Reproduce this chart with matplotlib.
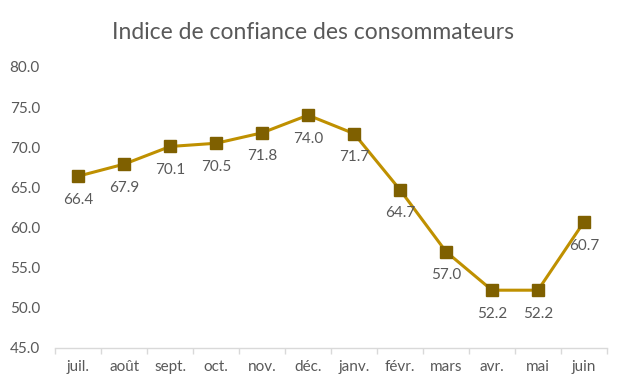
import numpy as np
import matplotlib
matplotlib.use("Agg")
import matplotlib.pyplot as plt

# Consumer confidence index, monthly
months = ["juil.", "août", "sept.", "oct.", "nov.", "déc.",
          "janv.", "févr.", "mars", "avr.", "mai", "juin"]
values = [66.4, 67.9, 70.1, 70.5, 71.8, 74.0, 71.7, 64.7, 57.0, 52.2, 52.2, 60.7]
y_ticks = [45.0, 50.0, 55.0, 60.0, 65.0, 70.0, 75.0, 80.0]

TEXT = "#595959"
LINE = "#BF9000"
MARK = "#7F6000"

plt.rcParams["font.family"] = ["Lato", "DejaVu Sans"]

fig = plt.figure(figsize=(6.27, 3.89), dpi=100)
ax = fig.add_axes([0.088, 0.1054, 0.88, 0.7224])

x = np.arange(len(months))
ax.plot(x, values, color=LINE, linewidth=2.2, marker="s", markersize=9,
        markerfacecolor=MARK, markeredgecolor=MARK, zorder=3)
for xi, v in zip(x, values):
    ax.annotate(f"{v:.1f}", (xi, v), xytext=(0, -17), textcoords="offset points",
                ha="center", va="center", fontsize=11, color=TEXT)

ax.set_xlim(-0.5, len(months) - 0.5)
ax.set_ylim(45, 80)
ax.set_yticks(y_ticks)
ax.set_yticklabels([f"{t:.1f}" for t in y_ticks])
ax.set_xticks(x)
ax.set_xticklabels(months)
ax.set_xticks(np.arange(-0.5, len(months)), minor=True)
ax.tick_params(axis="x", which="major", length=0, pad=9, labelsize=11, labelcolor=TEXT)
ax.tick_params(axis="x", which="minor", length=4, color="#D9D9D9", width=1)
ax.tick_params(axis="y", length=0, pad=11, labelsize=11, labelcolor=TEXT)

for side in ("top", "right", "left"):
    ax.spines[side].set_visible(False)
ax.spines["bottom"].set_color("#D9D9D9")
ax.spines["bottom"].set_linewidth(1)

fig.text(0.5, 0.917, "Indice de confiance des consommateurs", ha="center", va="center",
         fontsize=16.5, color=TEXT)

fig.savefig("out.png", dpi=100)
